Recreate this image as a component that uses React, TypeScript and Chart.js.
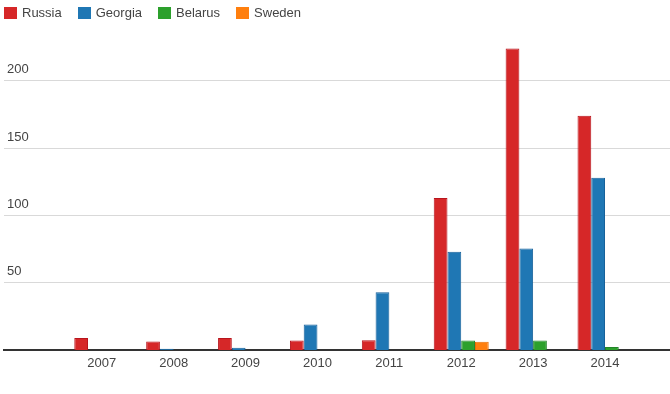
import React, { useEffect, useRef } from "react";
import { Chart, registerables } from "chart.js";

Chart.register(...registerables);

const years = [2007, 2008, 2009, 2010, 2011, 2012, 2013, 2014];
const seriesNames = ["Russia", "Georgia", "Belarus", "Sweden"];
const russia = [9, 6.4, 9, 7, 7.3, 113, 224, 174];
const georgia = [null, 1, 1.7, 19, 43, 73, 75.5, 128];
const belarus = [null, null, null, null, null, 7, 7, 2.2];
const sweden = [null, null, null, null, null, 6.2, null, null];
const yTickValues = [50, 100, 150, 200];

const fills = ["#d62728", "#1f77b4", "#2ca02c", "#ff7f0e"];
const borders = ["#b8151d", "#17619a", "#22852a", "#e86f05"];
const FONT = "Arial, 'Liberation Sans', sans-serif";

export default function App() {
  const ref = useRef<HTMLCanvasElement | null>(null);

  useEffect(() => {
    if (!ref.current) return;
    const values = [russia, georgia, belarus, sweden];
    const chart = new Chart(ref.current, {
      type: "bar",
      data: {
        datasets: values.map((arr, i) => ({
          label: seriesNames[i],
          data: arr.map((v, j) => ({ x: years[j], y: v })),
          backgroundColor: fills[i],
          borderColor: borders[i],
          borderWidth: 1,
          borderSkipped: "bottom",
          categoryPercentage: 0.765,
          barPercentage: 1,
        })),
      },
      options: {
        animation: false,
        responsive: true,
        maintainAspectRatio: false,
        layout: { padding: { left: 4, right: 0, top: 27, bottom: 24 } },
        plugins: {
          legend: { display: false },
          tooltip: { enabled: false },
        },
        scales: {
          x: {
            type: "linear",
            offset: false,
            min: 2005.64,
            max: 2014.904,
            grid: { display: false, drawTicks: false },
            border: { display: true, color: "#333", width: 2 },
            afterBuildTicks: (axis: any) => {
              axis.ticks = years.map((v) => ({ value: v }));
            },
            afterFit: (axis: any) => {
              axis.height = 20;
            },
            ticks: {
              padding: 6,
              color: "#444",
              font: { family: FONT, size: 13 },
              callback: (v: any) => String(v),
              autoSkip: false,
              maxRotation: 0,
            },
          },
          y: {
            min: 0,
            max: 240,
            grid: { color: "#d9d9d9", lineWidth: 1, drawTicks: false },
            border: { display: false },
            afterBuildTicks: (axis: any) => {
              axis.ticks = yTickValues.map((v) => ({ value: v }));
            },
            afterFit: (axis: any) => {
              axis.width = 0;
            },
            ticks: {
              mirror: true,
              padding: 3,
              labelOffset: -11,
              color: "#444",
              font: { family: FONT, size: 13 },
            },
          },
        },
      },
    });
    return () => chart.destroy();
  }, []);

  return (
    <div
      style={{
        position: "fixed",
        left: 0,
        top: 0,
        width: 670,
        height: 394,
        background: "#fff",
      }}
    >
      <canvas ref={ref} />
      <div
        style={{
          position: "absolute",
          left: 4,
          top: 7,
          display: "flex",
          gap: 16,
          fontFamily: FONT,
          fontSize: 13,
          color: "#444",
        }}
      >
        {seriesNames.map((name, i) => (
          <div
            key={name}
            style={{ display: "flex", alignItems: "center", height: 12, lineHeight: "12px" }}
          >
            <span
              style={{
                display: "inline-block",
                width: 13,
                height: 12,
                background: fills[i],
                marginRight: 5,
              }}
            />
            <span>{name}</span>
          </div>
        ))}
      </div>
    </div>
  );
}
